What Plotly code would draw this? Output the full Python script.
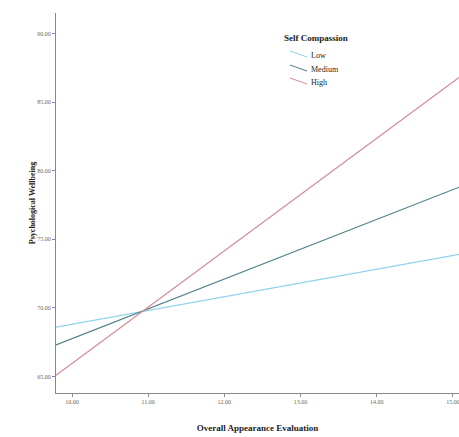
import plotly.graph_objects as go

x_vals = [9.79, 15.08]
low = [68.6, 73.9]
medium = [67.3, 78.8]
high = [65.1, 86.8]
series_names = ["Low", "Medium", "High"]
colors = ["#8fd3ea", "#4f8189", "#d98a96"]
legend_title = "Self Compassion"

x_ticks = [10, 11, 12, 13, 14, 15]
y_ticks = [65, 70, 75, 80, 85, 90]

fig = go.Figure()
for name, ys, c in zip(series_names, [low, medium, high], colors):
    fig.add_trace(go.Scatter(x=x_vals, y=ys, mode="lines", name=name,
                             line=dict(color=c, width=1.2), showlegend=False))

font_family = "Liberation Serif, Times New Roman, serif"

L, T, W, H = 56, 13, 403, 380
def px(xp):
    return (xp - L) / W
def py(yp):
    return (T + H - yp) / H

fig.add_annotation(x=px(316), y=py(31), xref="paper", yref="paper",
                   text=f"<b>{legend_title}</b>", showarrow=False,
                   font=dict(size=9, family=font_family, color="#222"))
row_y = [55, 69, 82]
for name, c, yy in zip(series_names, colors, row_y):
    fig.add_shape(type="line", xref="paper", yref="paper",
                  x0=px(290), y0=py(yy - 4), x1=px(307), y1=py(yy + 2),
                  line=dict(color=c, width=1))
    fig.add_annotation(x=px(309), y=py(yy - 6), xref="paper", yref="paper",
                       text=name, showarrow=False, xanchor="left",
                       font=dict(size=8, family=font_family, color="#222"))

fig.update_layout(
    width=459, height=437,
    margin=dict(l=56, r=0, t=13, b=44),
    plot_bgcolor="white", paper_bgcolor="white",
    font=dict(family=font_family, color="#222"),
    showlegend=False,
    xaxis=dict(
        range=[9.79, 15.08], tickvals=x_ticks,
        ticktext=[f"{v:.2f}" for v in x_ticks], automargin=False,
        ticklabeloverflow="allow",
        showgrid=False, zeroline=False, showline=True, linecolor="#888", linewidth=1.2,
        ticks="outside", ticklen=3, tickcolor="#888",
        tickfont=dict(size=6, color="#666"),
        title=dict(text="<b>Overall Appearance Evaluation</b>", font=dict(size=9), standoff=20),
    ),
    yaxis=dict(
        range=[63.8, 91.5], tickvals=y_ticks,
        ticktext=[f"{v:.2f}" for v in y_ticks], automargin=False,
        showgrid=False, zeroline=False, showline=True, linecolor="#888", linewidth=1.2,
        ticks="outside", ticklen=3, tickcolor="#888",
        tickfont=dict(size=6, color="#666"),
        title=dict(text="<b>Psychological Wellbeing</b>", font=dict(size=8), standoff=0),
    ),
)
fig.write_html("out.html", config={"displayModeBar": False},
               post_script="document.body.style.margin='0';document.body.style.overflow='hidden';")
